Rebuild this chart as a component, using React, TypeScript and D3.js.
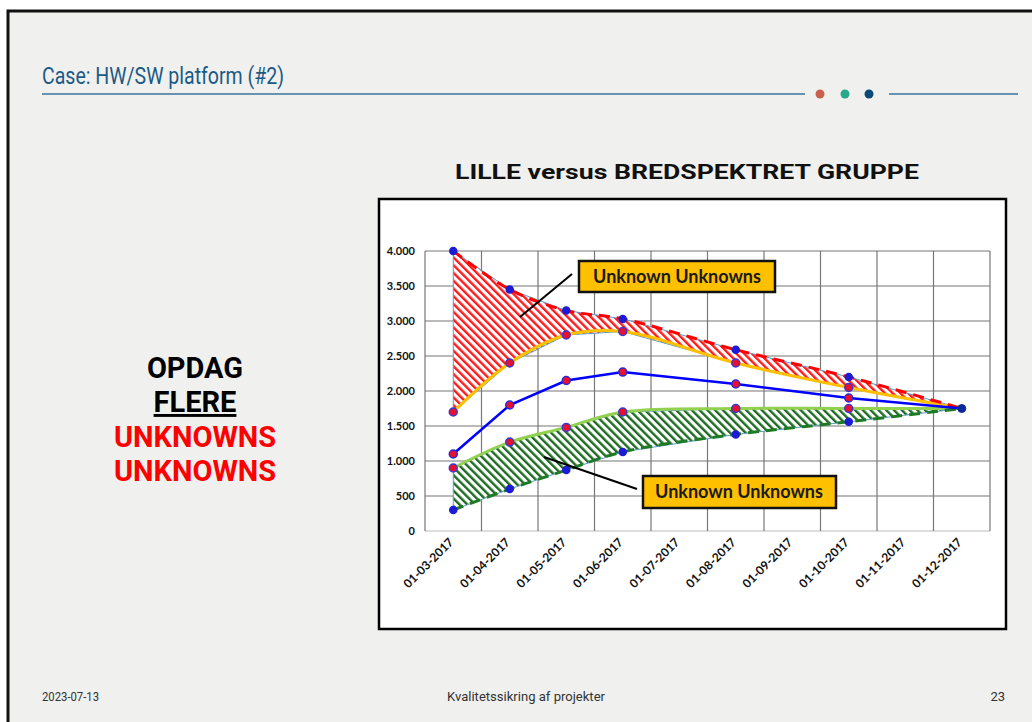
import React from "react";
import * as d3 from "d3";

// x categories on the axis
const dates = [
  "01-03-2017", "01-04-2017", "01-05-2017", "01-06-2017", "01-07-2017",
  "01-08-2017", "01-09-2017", "01-10-2017", "01-11-2017", "01-12-2017",
];
// months that carry a point
const pointDates = [
  "01-03-2017", "01-04-2017", "01-05-2017", "01-06-2017",
  "01-08-2017", "01-10-2017", "01-12-2017",
];
const redUpper = [4000, 3450, 3150, 3030, 2590, 2200, 1750];
const yellowLower = [1700, 2400, 2800, 2850, 2400, 2050, 1750];
const blueMid = [1100, 1800, 2150, 2270, 2100, 1900, 1750];
const greenUpper = [900, 1270, 1480, 1700, 1750, 1750, 1750];
const greenLower = [300, 600, 870, 1130, 1380, 1560, 1750];
const yTicks = [0, 500, 1000, 1500, 2000, 2500, 3000, 3500, 4000];

const W = 1032, H = 722;
const plot = { left: 425, right: 990, top: 251, bottom: 531 };

const fmt = (v: number) => (v === 0 ? "0" : d3.format(",")(v).replace(/,/g, "."));

export default function App() {
  const x = d3.scaleBand().domain(dates).range([plot.left, plot.right]);
  const y = d3.scaleLinear().domain([0, 4000]).range([plot.bottom, plot.top]);
  const cx = (d: string) => (x(d) as number) + x.bandwidth() / 2;

  const pts = (vals: number[]) => vals.map((v, i) => [cx(pointDates[i]), y(v)] as [number, number]);

  const smooth = d3.line().curve(d3.curveCatmullRom.alpha(0.5));
  const band = (top: number[], bot: number[]) =>
    d3.area<number>()
      .x((_, i) => cx(pointDates[i]))
      .y0((_, i) => y(bot[i]))
      .y1((v) => y(v))(top) as string;

  const markers = (vals: number[], fill: string, stroke: string, r = 4) =>
    pts(vals).slice(0, -1).map(([px, py], i) => (
      <circle key={i} cx={px} cy={py} r={r} fill={fill} stroke={stroke} strokeWidth={1.5} />
    ));

  const boxFont = "Lato, 'Open Sans', sans-serif";

  return (
    <div style={{ position: "fixed", left: 0, top: 0 }}>
      <svg width={W} height={H} style={{ display: "block" }}>
        <defs>
          <pattern id="hRed" width="5.5" height="6" patternUnits="userSpaceOnUse" patternTransform="rotate(-45)">
            <rect width="5.5" height="6" fill="#fff" />
            <rect width="2.4" height="6" fill="#ff1a1a" />
          </pattern>
          <pattern id="hGreen" width="5.5" height="6" patternUnits="userSpaceOnUse" patternTransform="rotate(-45)">
            <rect width="5.5" height="6" fill="#fff" />
            <rect width="2.4" height="6" fill="#1d6b22" />
          </pattern>
        </defs>
        <rect width={W} height={H} fill="#fff" />
        <rect x={8} y={11} width={W + 10} height={H} fill="#f0f1ef" stroke="#111" strokeWidth={3} />

        {/* slide header */}
        <text x={42} y={84} fill="#1c5a86" fontSize={24} textLength={242} lengthAdjust="spacingAndGlyphs"
          fontFamily="Roboto, sans-serif">
          Case: HW/SW platform (#2)
        </text>
        <line x1={42} x2={805} y1={94} y2={94} stroke="#3b739b" strokeWidth={1.5} />
        <line x1={889} x2={1018} y1={94} y2={94} stroke="#3b739b" strokeWidth={1.5} />
        <circle cx={820} cy={94} r={4.5} fill="#c9604d" />
        <circle cx={845} cy={94} r={4.5} fill="#27a888" />
        <circle cx={869} cy={94} r={4.5} fill="#0b4a76" />

        {/* left message */}
        <g fontFamily="Roboto, sans-serif" fontWeight={700} fontSize={29} textAnchor="middle">
          <text x={195} y={378} fill="#000">OPDAG</text>
          <text x={195} y={412} fill="#000" textDecoration="underline">FLERE</text>
          <text x={195} y={447} fill="#ff0000">UNKNOWNS</text>
          <text x={195} y={481} fill="#ff0000">UNKNOWNS</text>
        </g>

        {/* chart title */}
        <text x={687} y={179} textAnchor="middle" fontFamily="Roboto, sans-serif" fontWeight={700} fontSize={21}
          textLength={464} lengthAdjust="spacingAndGlyphs" fill="#111">
          LILLE versus BREDSPEKTRET GRUPPE
        </text>

        {/* chart box */}
        <rect x={379} y={199} width={627} height={430} fill="#fff" stroke="#000" strokeWidth={2.5} />

        {/* grid */}
        {yTicks.map((t) => (
          <g key={t}>
            <line x1={plot.left} x2={plot.right} y1={y(t)} y2={y(t)} stroke={t === 0 ? "#bbb" : "#777"} strokeWidth={1.2} />
            <text x={415} y={y(t)} dy="0.35em" textAnchor="end" fontFamily={boxFont} fontWeight={700} fontSize={11} fill="#111">
              {fmt(t)}
            </text>
          </g>
        ))}
        {dates.concat(["end"]).map((d, i) => {
          const gx = plot.left + i * x.step();
          return <line key={d} x1={gx} x2={gx} y1={plot.top} y2={plot.bottom} stroke="#777" strokeWidth={1.2} />;
        })}
        {dates.map((d) => (
          <text key={d} transform={`translate(${cx(d) + 1},${plot.bottom + 12}) rotate(-45)`} textAnchor="end"
            fontFamily={boxFont} fontWeight={700} fontSize={12} fill="#111">
            {d}
          </text>
        ))}

        {/* hatched bands */}
        <path d={band(redUpper, yellowLower)} fill="url(#hRed)" stroke="#5c9cc4" strokeWidth={1} />
        <path d={band(greenUpper, greenLower)} fill="url(#hGreen)" stroke="#5c9cc4" strokeWidth={1} />

        {/* lines */}
        <path d={smooth(pts(yellowLower)) as string} fill="none" stroke="#ffc000" strokeWidth={3} />
        <path d={smooth(pts(greenUpper)) as string} fill="none" stroke="#92d050" strokeWidth={3} />
        <path d={smooth(pts(redUpper)) as string} fill="none" stroke="#ff0000" strokeWidth={3} strokeDasharray="11 7" />
        <path d={smooth(pts(greenLower)) as string} fill="none" stroke="#1f7a26" strokeWidth={3} strokeDasharray="11 7" />
        <path d={d3.line()(pts(blueMid)) as string} fill="none" stroke="#0000ff" strokeWidth={2.5} />

        {markers(redUpper, "#1c1cd6", "#1c1cd6", 3.5)}
        {markers(yellowLower, "#e8102f", "#3a3ad0")}
        {markers(blueMid, "#e8102f", "#2a2ad8")}
        {markers(greenUpper, "#e8102f", "#3a3ad0")}
        {markers(greenLower, "#1c1cd6", "#1c1cd6", 3.5)}
        <circle cx={cx(pointDates[6])} cy={y(1750)} r={4} fill="#0a2a9a" stroke="#0a2a9a" />

        {/* annotations */}
        <line x1={572} y1={274} x2={520} y2={317} stroke="#000" strokeWidth={2} />
        <rect x={579} y={261} width={196} height={31} fill="#ffc000" stroke="#111" strokeWidth={2.5} />
        <text x={677} y={277} dy="0.35em" textAnchor="middle" fontFamily={boxFont} fontWeight={700} fontSize={18} fill="#1a1a1a">
          Unknown Unknowns
        </text>
        <line x1={637} y1={489} x2={544} y2={457} stroke="#000" strokeWidth={2} />
        <rect x={643} y={476} width={193} height={32} fill="#ffc000" stroke="#111" strokeWidth={2.5} />
        <text x={739} y={492} dy="0.35em" textAnchor="middle" fontFamily={boxFont} fontWeight={700} fontSize={18} fill="#1a1a1a">
          Unknown Unknowns
        </text>

        {/* footer */}
        <g fontFamily="Roboto, sans-serif" fontSize={13} fill="#333">
          <text x={42} y={701} textLength={57} lengthAdjust="spacingAndGlyphs">2023-07-13</text>
          <text x={526} y={701} textAnchor="middle" textLength={158} lengthAdjust="spacingAndGlyphs">Kvalitetssikring af projekter</text>
          <text x={1005} y={701} textAnchor="end">23</text>
        </g>
      </svg>
    </div>
  );
}
